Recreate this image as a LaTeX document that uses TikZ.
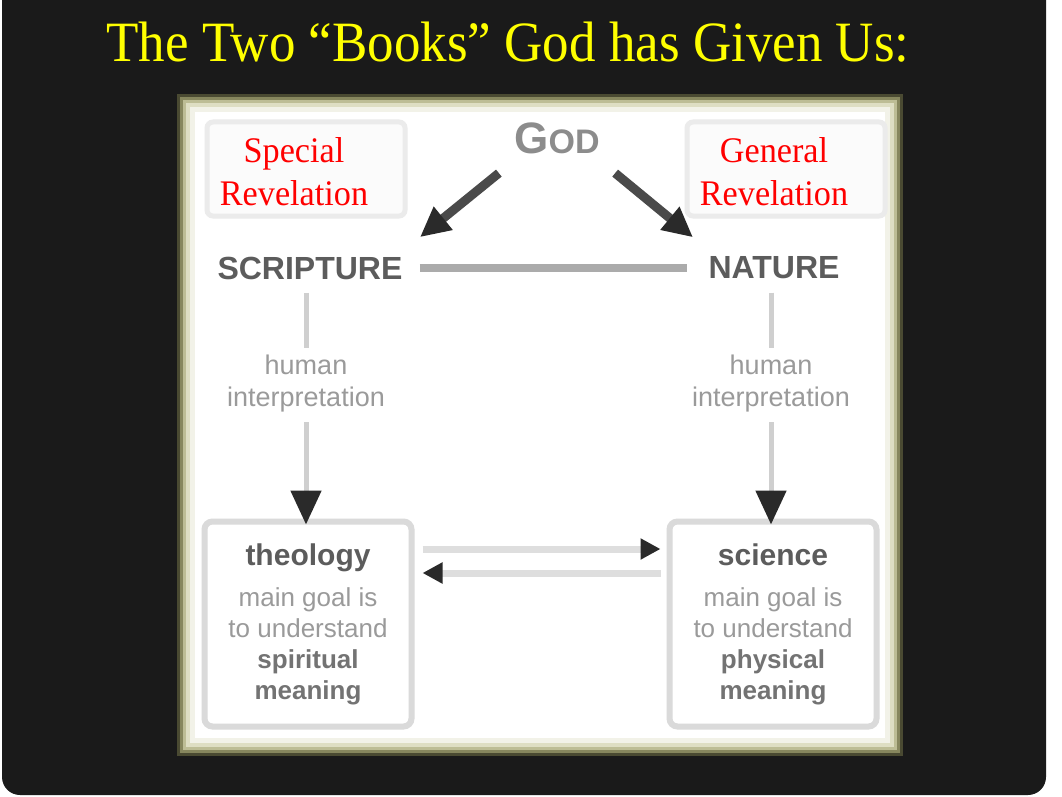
\documentclass[tikz,border=0pt]{standalone}
\usepackage{fontspec}
\setmainfont{Liberation Serif}
\newfontfamily\sansf{Liberation Sans}
\usetikzlibrary{arrows.meta}
\definecolor{bg}{HTML}{1A1A1A}
\definecolor{titley}{HTML}{FFFF00}
\definecolor{glowA}{HTML}{4A4A32}
\definecolor{glowB}{HTML}{87875E}
\definecolor{glowC}{HTML}{BDBD95}
\definecolor{glowD}{HTML}{DEDEC3}
\definecolor{glowE}{HTML}{F2F2E8}
\definecolor{lblbox}{HTML}{EBEBEB}
\definecolor{boxline}{HTML}{DADADA}
\definecolor{dark}{HTML}{2A2A2A}
\definecolor{midgray}{HTML}{5C5C5C}
\definecolor{lightgray}{HTML}{9A9A9A}
\definecolor{paleline}{HTML}{CFCFCF}
\begin{document}
\begin{tikzpicture}[x=1pt,y=-1pt,
  redlbl/.style={text=red, align=center, font=\fontsize{36}{43}\selectfont, xscale=0.95},
  lblframe/.style={draw=lblbox, line width=5, fill=white!97!gray, rounded corners=6},
  bigword/.style={text=midgray, font=\sansf\bfseries\fontsize{32}{34}\selectfont},
  smallword/.style={text=lightgray, align=center, font=\sansf\fontsize{27}{32}\selectfont},
  bookbox/.style={draw=boxline, line width=6, fill=white, rounded corners=8, minimum width=207, minimum height=205, align=center, inner sep=0, font=\sansf\fontsize{26}{31}\selectfont},
  diag/.style={draw=midgray!80!black, line width=9, -{Triangle[length=30, width=28, color=dark]}},
  paleseg/.style={draw=paleline, line width=5},
  downarrow/.style={draw=paleline, line width=5, -{Triangle[length=34, width=30, color=dark]}},
  sidearrow/.style={draw=black!13, line width=7, -{Triangle[length=20, width=20, color=dark]}},
  hline/.style={draw=black!33, line width=8}
]
\useasboundingbox (0,0) rectangle (1062,797);
\fill[white] (0,0) rectangle (1062,797);
\fill[bg, rounded corners=18] (2,-20) rectangle (1046,795);

% title
\node[anchor=base, text=titley, font=\fontsize{57}{62}\selectfont, xscale=0.93] (title) at (508,62) {The Two “Books” God has Given Us:};

% framed picture with glow
\fill[glowA] (177,94) rectangle (903,756);
\fill[glowB] (180,97) rectangle (900,753);
\fill[glowC] (183,100) rectangle (897,750);
\fill[glowD] (186,103) rectangle (894,747);
\fill[glowE] (190,107) rectangle (890,743);
\fill[white] (195,112) rectangle (885,738);

% label frames
\draw[lblframe] (207,122) rectangle (405,216);
\draw[lblframe] (687,122) rectangle (885,216);
\node[redlbl] (special) at (294,172) {Special\\Revelation};
\node[redlbl] (general) at (774,172) {General\\Revelation};

% GOD
\node[text=black!45, font=\sansf\bfseries\fontsize{44}{46}\selectfont] (god) at (557,138) {G{\fontsize{34}{34}\selectfont OD}};

% Scripture and Nature
\node[bigword] (scr) at (310,268) {SCRIPTURE};
\node[bigword] (nat) at (774,268) {NATURE};

\draw[hline, shorten <=14, shorten >=18] (scr.east) -- (nat.west);
\draw[diag] ([shift={(-12,16)}]god.south west) -- ([shift={(14,-16)}]scr.north east);
\draw[diag] ([shift={(12,16)}]god.south east) -- ([shift={(-12,-16)}]nat.north west);

% human interpretation
\node[smallword] (hiL) at (306,384) {human\\interpretation};
\node[smallword] (hiR) at (771,384) {human\\interpretation};

% bottom boxes
\node[bookbox] (theo) at (308,624) {%
  {\bfseries\fontsize{30}{34}\selectfont\color{midgray} theology}\\[10pt]
  {\color{lightgray} main goal is}\\
  {\color{lightgray} to understand}\\
  {\bfseries\color{black!55} spiritual}\\
  {\bfseries\color{black!55} meaning}};
\node[bookbox] (sci) at (773,624) {%
  {\bfseries\fontsize{30}{34}\selectfont\color{midgray} science}\\[10pt]
  {\color{lightgray} main goal is}\\
  {\color{lightgray} to understand}\\
  {\bfseries\color{black!55} physical}\\
  {\bfseries\color{black!55} meaning}};

% vertical connectors
\draw[paleseg] ([yshift=-10]hiL.north |- scr.south) -- ([yshift=4]hiL.north);
\draw[downarrow] ([yshift=-6]hiL.south) -- ([yshift=-6]theo.north -| hiL.south);
\draw[paleseg] ([yshift=-10]hiR.north |- nat.south) -- ([yshift=4]hiR.north);
\draw[downarrow] ([yshift=-6]hiR.south) -- ([yshift=-6]sci.north -| hiR.south);

% double arrows
\draw[sidearrow] ([shift={(8,-75)}]theo.east) -- ([shift={(-6,-75)}]sci.west);
\draw[sidearrow] ([shift={(-6,-51)}]sci.west) -- ([shift={(8,-51)}]theo.east);
\end{tikzpicture}
\end{document}
